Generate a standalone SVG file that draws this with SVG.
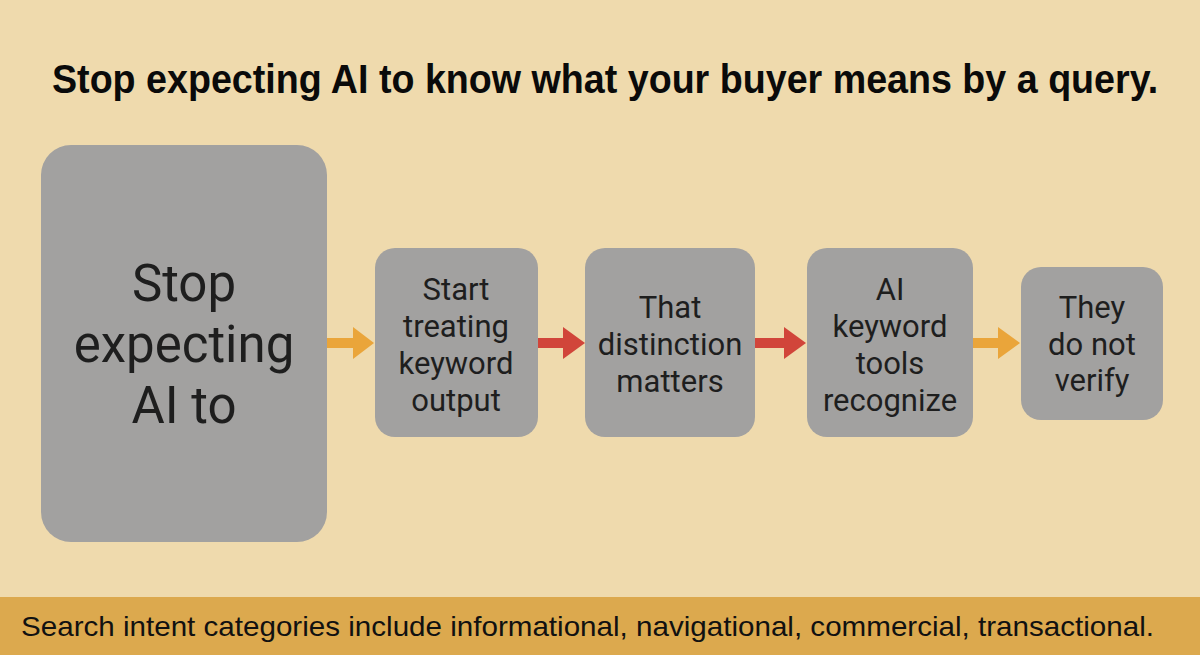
<svg xmlns="http://www.w3.org/2000/svg" width="1200" height="655" viewBox="0 0 1200 655">
<style>
.node{fill:#a2a1a0;}
.lbl{font-family:Roboto,"Liberation Sans",sans-serif;fill:#1e1e1e;text-anchor:middle;}
.big{font-size:51px;}
.sm{font-size:31px;}
.title{font-family:"Liberation Sans",Arial,sans-serif;font-weight:bold;font-size:41px;fill:#0a0a0a;}
.foot{font-family:"Liberation Sans",Arial,sans-serif;font-size:28px;fill:#111;}
.orange{fill:#eaa53a;}
.red{fill:#d1453a;}
</style>
<rect x="0" y="0" width="1200" height="655" fill="#efdaad"/>
<text class="title" transform="translate(52,93) scale(0.84,1)" x="0" y="0" textLength="1317" lengthAdjust="spacingAndGlyphs">Stop expecting AI to know what your buyer means by a query.</text>
<g id="connectors">
  <polygon class="orange" points="327,338 353,338 353,327 374,343 353,359 353,348 327,348"/>
  <polygon class="red" points="538,338 563,338 563,327 585,343 563,359 563,348 538,348"/>
  <polygon class="red" points="753,338 784,338 784,327 806,343 784,359 784,348 753,348"/>
  <polygon class="orange" points="973,338 998,338 998,327 1020,343 998,359 998,348 973,348"/>
</g>
<g id="node1">
  <rect class="node" x="41" y="145" width="286" height="397" rx="30"/>
  <text class="lbl big" x="184" y="301">Stop</text>
  <text class="lbl big" x="184" y="362">expecting</text>
  <text class="lbl big" x="184" y="423">AI to</text>
</g>
<g id="node2">
  <rect class="node" x="375" y="248" width="163" height="189" rx="20"/>
  <text class="lbl sm" x="456" y="300">Start</text>
  <text class="lbl sm" x="456" y="337">treating</text>
  <text class="lbl sm" x="456" y="374">keyword</text>
  <text class="lbl sm" x="456" y="411">output</text>
</g>
<g id="node3">
  <rect class="node" x="585" y="248" width="170" height="189" rx="20"/>
  <text class="lbl sm" x="670" y="318">That</text>
  <text class="lbl sm" x="670" y="355">distinction</text>
  <text class="lbl sm" x="670" y="392">matters</text>
</g>
<g id="node4">
  <rect class="node" x="807" y="248" width="166" height="189" rx="20"/>
  <text class="lbl sm" x="890" y="300">AI</text>
  <text class="lbl sm" x="890" y="337">keyword</text>
  <text class="lbl sm" x="890" y="374">tools</text>
  <text class="lbl sm" x="890" y="411">recognize</text>
</g>
<g id="node5">
  <rect class="node" x="1021" y="267" width="142" height="153" rx="20"/>
  <text class="lbl sm" x="1092" y="318">They</text>
  <text class="lbl sm" x="1092" y="355">do not</text>
  <text class="lbl sm" x="1092" y="391">verify</text>
</g>
<rect x="0" y="597" width="1200" height="58" fill="#dca94e"/>
<text class="foot" x="21" y="636" textLength="1133" lengthAdjust="spacingAndGlyphs">Search intent categories include informational, navigational, commercial, transactional.</text>
</svg>
